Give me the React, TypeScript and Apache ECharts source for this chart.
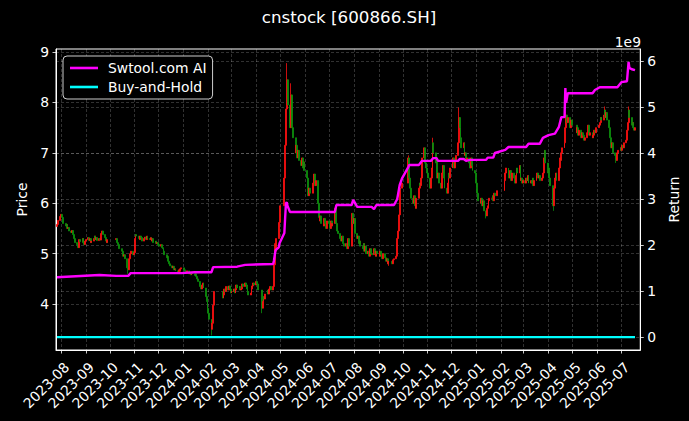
import React, { useEffect, useRef } from "react";
import * as echarts from "echarts";

// ---------- data ----------
const firstDay = "2023-07-27";
const lastDay = "2025-07-18";
const holidays = [
  "2023-09-29", "2023-10-02", "2023-10-03", "2023-10-04", "2023-10-05", "2023-10-06",
  "2024-01-01", "2024-02-09", "2024-02-12", "2024-02-13", "2024-02-14", "2024-02-15", "2024-02-16",
  "2024-04-04", "2024-04-05", "2024-05-01", "2024-05-02", "2024-05-03", "2024-06-10",
  "2024-09-16", "2024-09-17", "2024-10-01", "2024-10-02", "2024-10-03", "2024-10-04", "2024-10-07",
  "2025-01-01", "2025-01-28", "2025-01-29", "2025-01-30", "2025-01-31", "2025-02-03", "2025-02-04",
  "2025-04-04", "2025-05-01", "2025-05-02", "2025-05-05", "2025-06-02",
];

// daily closes, one list per month (trading days in order)
const close2023_07 = [5.58, 5.66, 5.74];
const close2023_08 = [5.78, 5.72, 5.65, 5.6, 5.55, 5.58, 5.5, 5.52, 5.45, 5.42, 5.46, 5.38, 5.3, 5.22, 5.18, 5.12, 5.2, 5.28, 5.24, 5.3, 5.22, 5.18, 5.25];
const close2023_09 = [5.28, 5.32, 5.26, 5.3, 5.22, 5.25, 5.3, 5.35, 5.28, 5.32, 5.26, 5.3, 5.27, 5.4, 5.45, 5.38, 5.32, 5.25, 5.22, 5.28];
const close2023_10 = [5.3, 5.22, 5.18, 5.15, 5.1, 5.05, 5.0, 4.95, 4.98, 4.9, 4.72, 4.68, 4.9, 5.0, 5.05, 4.98, 5.02];
const close2023_11 = [5.3, 5.38, 5.35, 5.3, 5.28, 5.35, 5.32, 5.25, 5.3, 5.33, 5.28, 5.35, 5.3, 5.28, 5.32, 5.25, 5.3, 5.22, 5.25, 5.2, 5.22, 5.18];
const close2023_12 = [5.15, 5.18, 5.12, 5.1, 5.05, 4.98, 4.92, 4.95, 4.85, 4.8, 4.76, 4.72, 4.75, 4.68, 4.7, 4.66, 4.62, 4.68, 4.65, 4.7, 4.72];
const close2024_01 = [4.68, 4.65, 4.62, 4.66, 4.6, 4.63, 4.58, 4.62, 4.6, 4.57, 4.6, 4.55, 4.5, 4.45, 4.35, 4.3, 4.38, 4.42, 4.32, 4.15, 4.05, 3.92];
const close2024_02 = [3.82, 3.7, 3.5, 3.62, 3.98, 4.25, 4.12, 4.18, 4.3, 4.25, 4.35, 4.28, 4.36, 4.3, 4.22];
const close2024_03 = [4.25, 4.3, 4.22, 4.28, 4.38, 4.32, 4.35, 4.28, 4.3, 4.4, 4.35, 4.42, 4.38, 4.3, 4.25, 4.18, 4.22, 4.3, 4.36, 4.42, 4.38];
const close2024_04 = [4.45, 4.4, 4.28, 3.92, 4.05, 4.15, 4.1, 4.2, 4.28, 4.2, 4.3, 4.35, 4.28, 4.35, 4.78, 5.2, 5.05, 5.3, 5.62, 5.95];
const close2024_05 = [6.5, 7.15, 7.87, 8.45, 7.95, 7.5, 8.15, 7.75, 7.5, 7.3, 7.0, 7.15, 6.9, 7.05, 6.85, 6.75, 6.9, 6.7, 6.82, 6.65];
const close2024_06 = [6.5, 6.3, 6.15, 6.3, 6.2, 6.4, 6.58, 6.35, 6.45, 6.0, 5.72, 5.65, 5.75, 5.6, 5.55, 5.7, 5.6, 5.5, 5.65];
const close2024_07 = [5.6, 5.5, 5.65, 5.55, 5.6, 5.9, 5.8, 5.6, 5.45, 5.4, 5.3, 5.25, 5.35, 5.2, 5.15, 5.2, 5.1, 5.25, 5.3, 5.15, 5.5, 5.8, 5.6];
const close2024_08 = [5.7, 5.4, 5.3, 5.35, 5.2, 5.25, 5.15, 5.1, 5.2, 5.05, 5.15, 5.0, 5.05, 4.95, 5.1, 5.0, 4.98, 5.1, 5.0, 4.95, 5.05, 5.0];
const close2024_09 = [4.95, 5.05, 4.98, 4.9, 5.0, 4.92, 4.85, 4.9, 4.8, 4.85, 4.8, 4.88, 4.9, 4.95, 5.3, 5.45, 5.77, 6.3, 6.4];
const close2024_10 = [6.9, 6.5, 6.3, 6.1, 6.0, 6.15, 5.95, 5.9, 6.1, 6.3, 6.4, 6.35, 6.5, 6.9, 7.1, 6.8, 6.7, 6.6];
const close2024_11 = [6.5, 6.3, 6.5, 6.7, 7.2, 7.0, 6.8, 6.9, 6.5, 6.6, 6.4, 6.3, 6.6, 6.75, 6.5, 6.3, 6.2, 6.4, 6.6, 6.5, 6.7];
const close2024_12 = [6.8, 6.9, 6.7, 6.85, 6.95, 7.2, 7.7, 7.5, 7.3, 7.1, 7.2, 6.95, 7.0, 6.85, 6.9, 6.8, 6.7, 6.9, 6.75, 6.65, 6.6, 6.4];
const close2025_01 = [6.2, 6.05, 6.0, 6.1, 5.95, 6.05, 5.85, 5.75, 5.9, 5.95, 6.05, 6.1, 6.1, 6.15, 6.05, 6.2, 6.15, 6.25];
const close2025_02 = [6.45, 6.6, 6.7, 6.55, 6.5, 6.65, 6.45, 6.6, 6.5, 6.4, 6.55, 6.7, 6.6, 6.75, 6.45, 6.5, 6.4, 6.45];
const close2025_03 = [6.4, 6.5, 6.45, 6.55, 6.4, 6.45, 6.4, 6.5, 6.35, 6.45, 6.55, 6.6, 6.5, 6.55, 6.45, 6.5, 6.6, 6.9, 7.05, 6.8, 6.6];
const close2025_04 = [6.7, 6.5, 6.35, 5.95, 6.3, 6.5, 6.6, 6.45, 6.7, 6.9, 6.85, 7.0, 7.1, 7.2, 7.5, 7.75, 7.6, 7.7, 7.5, 7.65, 7.55];
const close2025_05 = [7.4, 7.5, 7.35, 7.45, 7.3, 7.4, 7.35, 7.25, 7.3, 7.4, 7.55, 7.45, 7.35, 7.4, 7.3, 7.35, 7.45, 7.4, 7.5];
const close2025_06 = [7.55, 7.6, 7.7, 7.65, 7.75, 7.85, 7.7, 7.8, 7.65, 7.5, 7.3, 7.1, 7.2, 7.0, 6.95, 6.85, 6.9, 7.0, 7.05, 7.1];
const close2025_07 = [7.05, 7.15, 7.1, 7.2, 7.25, 7.45, 7.6, 7.85, 7.7, 7.55, 7.6, 7.5, 7.45, 7.5];

// notable intraday extremes
const highOverrides: [string, number][] = [
  ["2024-05-09", 8.78], ["2024-05-14", 8.38], ["2024-12-10", 7.9], ["2024-10-08", 6.95],
  ["2024-11-07", 7.3], ["2025-06-10", 7.92], ["2025-07-10", 7.92], ["2025-04-23", 7.82],
];
const lowOverrides: [string, number][] = [
  ["2024-02-05", 3.38], ["2024-04-08", 3.82], ["2025-04-07", 5.85], ["2024-09-13", 4.76],
  ["2023-10-24", 4.6], ["2025-01-13", 5.7], ["2025-06-24", 6.8],
];

// Swtool.com AI strategy return (units of 1e9)
const aiDates = [
  "2023-07-27", "2023-09-18", "2023-10-09", "2023-10-24", "2023-10-27", "2023-12-29", "2024-01-15",
  "2024-02-05", "2024-02-07", "2024-03-08", "2024-03-18", "2024-04-22", "2024-04-23", "2024-04-24",
  "2024-04-25", "2024-04-29", "2024-04-30", "2024-05-06", "2024-05-07", "2024-05-08", "2024-05-09",
  "2024-05-10", "2024-05-13", "2024-07-08", "2024-07-10", "2024-07-29", "2024-07-31", "2024-08-02",
  "2024-08-05", "2024-08-23", "2024-08-26", "2024-08-29", "2024-09-20", "2024-09-24", "2024-09-25",
  "2024-09-26", "2024-09-27", "2024-09-30", "2024-10-08", "2024-10-09", "2024-10-21", "2024-10-25",
  "2024-11-05", "2024-11-08", "2024-11-12", "2024-11-14", "2024-12-09", "2024-12-11", "2024-12-16",
  "2024-12-19", "2024-12-24", "2025-01-13", "2025-01-15", "2025-01-22", "2025-01-24", "2025-02-06",
  "2025-02-10", "2025-03-04", "2025-03-07", "2025-03-21", "2025-03-25", "2025-04-01", "2025-04-09",
  "2025-04-14", "2025-04-17", "2025-04-21", "2025-04-22", "2025-04-23", "2025-04-25", "2025-05-26",
  "2025-05-29", "2025-06-04", "2025-06-26", "2025-07-01", "2025-07-08", "2025-07-10", "2025-07-11",
  "2025-07-14", "2025-07-18",
];
const aiReturns = [
  1.30, 1.35, 1.33, 1.33, 1.39, 1.39, 1.41,
  1.41, 1.52, 1.53, 1.57, 1.59, 1.66, 1.78,
  1.89, 1.95, 2.04, 2.26, 2.60, 2.91, 2.93,
  2.85, 2.72, 2.72, 2.87, 2.87, 2.98, 2.92,
  2.83, 2.83, 2.78, 2.87, 2.87, 3.00, 3.10,
  3.20, 3.30, 3.45, 3.70, 3.74, 3.74, 3.83,
  3.83, 3.89, 3.89, 3.83, 3.83, 3.87, 3.87,
  3.83, 3.85, 3.85, 3.90, 3.90, 4.00, 4.07,
  4.13, 4.13, 4.20, 4.20, 4.33, 4.39, 4.42,
  4.57, 4.78, 4.78, 5.41, 5.09, 5.30, 5.30,
  5.37, 5.43, 5.43, 5.54, 5.56, 5.98, 5.85,
  5.82, 5.80,
];

const monthTicks = [
  "2023-08", "2023-09", "2023-10", "2023-11", "2023-12", "2024-01", "2024-02", "2024-03",
  "2024-04", "2024-05", "2024-06", "2024-07", "2024-08", "2024-09", "2024-10", "2024-11",
  "2024-12", "2025-01", "2025-02", "2025-03", "2025-04", "2025-05", "2025-06", "2025-07",
];
const priceTicks = [4, 5, 6, 7, 8, 9];
const returnTicks = [0, 1, 2, 3, 4, 5, 6];

// ---------- helpers ----------
const ts = (s: string) => {
  const [y, m, d] = s.split("-").map(Number);
  return Date.UTC(y, m - 1, d || 1);
};
const pad = (n: number) => String(n).padStart(2, "0");
const fmtDay = (t: number) => {
  const d = new Date(t);
  return `${d.getUTCFullYear()}-${pad(d.getUTCMonth() + 1)}-${pad(d.getUTCDate())}`;
};

function buildCandles() {
  const monthly: Record<string, number[]> = {
    "2023-07": close2023_07, "2023-08": close2023_08, "2023-09": close2023_09, "2023-10": close2023_10,
    "2023-11": close2023_11, "2023-12": close2023_12, "2024-01": close2024_01, "2024-02": close2024_02,
    "2024-03": close2024_03, "2024-04": close2024_04, "2024-05": close2024_05, "2024-06": close2024_06,
    "2024-07": close2024_07, "2024-08": close2024_08, "2024-09": close2024_09, "2024-10": close2024_10,
    "2024-11": close2024_11, "2024-12": close2024_12, "2025-01": close2025_01, "2025-02": close2025_02,
    "2025-03": close2025_03, "2025-04": close2025_04, "2025-05": close2025_05, "2025-06": close2025_06,
    "2025-07": close2025_07,
  };
  const hol = new Set(holidays);
  const highs = new Map(highOverrides);
  const lows = new Map(lowOverrides);
  const counters: Record<string, number> = {};
  const out: number[][] = [];
  const end = ts(lastDay);
  let prev: number | null = null;
  for (let t = ts(firstDay); t <= end; t += 86400000) {
    const d = new Date(t);
    const wd = d.getUTCDay();
    const key = fmtDay(t);
    if (wd === 0 || wd === 6 || hol.has(key)) continue;
    const mk = key.slice(0, 7);
    const list = monthly[mk];
    const i = counters[mk] || 0;
    counters[mk] = i + 1;
    if (!list || i >= list.length) continue;
    const c = list[i];
    const o = prev == null ? c - 0.04 : prev;
    let hi = Math.max(o, c);
    let lo = Math.min(o, c);
    if (highs.has(key)) hi = Math.max(hi, highs.get(key)!);
    if (lows.has(key)) lo = Math.min(lo, lows.get(key)!);
    out.push([t, o, c, lo, hi]);
    prev = c;
  }
  return out;
}

const FONT = "DejaVu Sans";

export default function App() {
  const ref = useRef<HTMLDivElement>(null);
  useEffect(() => {
    if (!ref.current) return;
    const chart = echarts.init(ref.current, null, { renderer: "svg" });
    const candles = buildCandles();
    const firstClose = candles[0][2];
    const bh = candles.map((r) => [r[0], r[2] / firstClose / 1e9]);
    const ai = aiDates.map((d, i) => [ts(d), aiReturns[i]]);
    const monthVals = monthTicks.map((m) => ts(m));
    const gridLine = { show: true, lineStyle: { color: "rgba(255,255,255,0.32)", width: 0.6, type: [3, 2] as any } };

    chart.setOption({
      animation: false,
      backgroundColor: "#000",
      textStyle: { fontFamily: FONT },
      graphic: [
        {
          type: "text", x: 349, y: 17,
          style: { text: "cnstock [600866.SH]", fill: "#fff", font: `16.7px '${FONT}'`, textAlign: "center", textVerticalAlign: "middle" },
        },
        {
          type: "text", x: 641, y: 42,
          style: { text: "1e9", fill: "#fff", font: `13.9px '${FONT}'`, textAlign: "right", textVerticalAlign: "middle" },
        },
      ],
      legend: {
        data: ["Swtool.com AI", "Buy-and-Hold"],
        orient: "vertical",
        left: 63, top: 56,
        padding: [5, 6, 5, 7],
        itemGap: 5,
        itemWidth: 28, itemHeight: 2.6,
        icon: "rect",
        backgroundColor: "#000",
        borderColor: "rgba(255,255,255,0.8)",
        borderWidth: 1, borderRadius: 4,
        textStyle: { color: "#fff", fontSize: 13.9, fontFamily: FONT, padding: [0, 0, 0, 5] },
      },
      grid: { left: 56, right: 48, top: 49, bottom: 71, show: true, borderColor: "#fff", borderWidth: 1, backgroundColor: "transparent" },
      xAxis: {
        type: "value",
        min: Date.UTC(2023, 6, 25, 18),
        max: Date.UTC(2025, 6, 24, 14),
        axisLine: { show: true, onZero: false, lineStyle: { color: "#fff", width: 1 } },
        axisTick: { show: true, length: 3.5, lineStyle: { color: "#fff", width: 0.8 }, customValues: monthVals },
        axisLabel: {
          customValues: monthVals, rotate: 45, margin: 9,
          align: "right", verticalAlign: "top", padding: [1, 0, 0, 0],
          color: "#fff", fontSize: 13.9, fontFamily: FONT,
          formatter: (v: number) => { const d = new Date(v); return `${d.getUTCFullYear()}-${pad(d.getUTCMonth() + 1)}`; },
        },
        splitLine: gridLine,
      },
      yAxis: [
        {
          type: "value", position: "left", min: 3.09, max: 9.06,
          name: "Price", nameLocation: "middle", nameGap: 23, nameRotate: 90,
          nameTextStyle: { color: "#fff", fontSize: 13.9, fontFamily: FONT },
          axisLine: { show: true, lineStyle: { color: "#fff", width: 1 } },
          axisTick: { show: true, length: 3.5, lineStyle: { color: "#fff", width: 0.8 }, customValues: priceTicks },
          axisLabel: { customValues: priceTicks, color: "#fff", fontSize: 13.9, fontFamily: FONT, margin: 7 },
          splitLine: gridLine,
        },
        {
          type: "value", position: "right", min: -0.28, max: 6.26,
          name: "Return", nameLocation: "middle", nameGap: 22, nameRotate: 90,
          nameTextStyle: { color: "#fff", fontSize: 13.9, fontFamily: FONT },
          axisLine: { show: true, lineStyle: { color: "#fff", width: 1 } },
          axisTick: { show: true, length: 3.5, lineStyle: { color: "#fff", width: 0.8 }, customValues: returnTicks },
          axisLabel: { customValues: returnTicks, color: "#fff", fontSize: 13.9, fontFamily: FONT, margin: 7, formatter: (v: number) => String(Math.round(v)) },
          splitLine: gridLine,
        },
      ],
      series: [
        {
          type: "candlestick", name: "Price", yAxisIndex: 0, z: 2,
          barWidth: 1.4,
          data: candles,
          itemStyle: { color: "#ff1010", color0: "#0c900c", borderColor: "#ff1010", borderColor0: "#0c900c", borderWidth: 0.8 },
        },
        {
          type: "line", name: "Swtool.com AI", yAxisIndex: 1, z: 4,
          data: ai, showSymbol: false, symbol: "none",
          lineStyle: { color: "#ff00ff", width: 2.4 }, itemStyle: { color: "#ff00ff" },
        },
        {
          type: "line", name: "Buy-and-Hold", yAxisIndex: 1, z: 4,
          data: bh, showSymbol: false, symbol: "none",
          lineStyle: { color: "#00ffff", width: 2.4 }, itemStyle: { color: "#00ffff" },
        },
      ],
    });
    return () => chart.dispose();
  }, []);
  return <div ref={ref} style={{ position: "fixed", left: 0, top: 0, width: 689, height: 421, background: "#000" }} />;
}
